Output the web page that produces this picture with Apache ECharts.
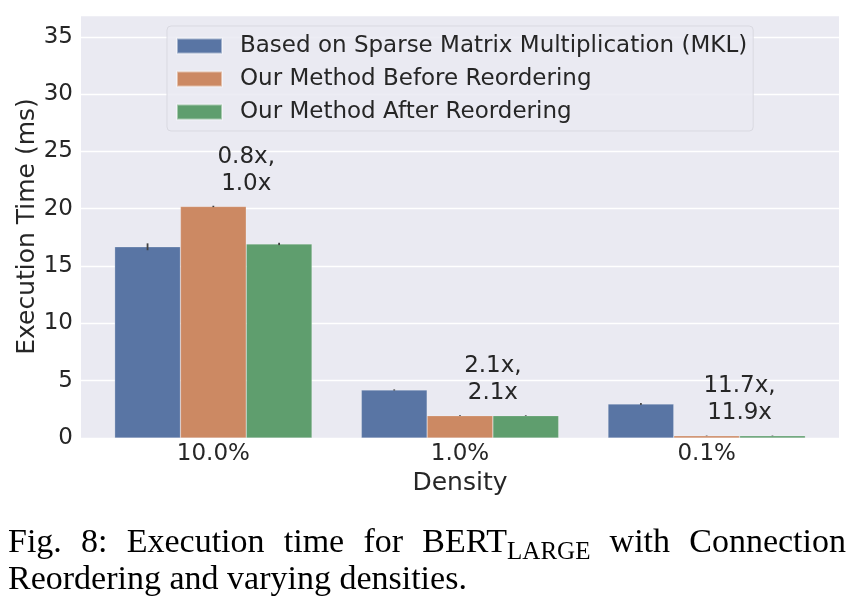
<!DOCTYPE html>
<html><head><meta charset="utf-8">
<script src="https://cdn.jsdelivr.net/npm/echarts@6/dist/echarts.min.js"></script>
<style>html,body{margin:0;padding:0;background:#fff}#c{width:858px;height:608px}</style>
</head><body><div id="c"></div>
<script>
const categories = ['10.0%', '1.0%', '0.1%'];
const seriesNames = ['Based on Sparse Matrix Multiplication (MKL)', 'Our Method Before Reordering', 'Our Method After Reordering'];
const mklTime = [16.68, 4.19, 2.97];
const beforeTime = [20.2, 1.95, 0.19];
const afterTime = [16.93, 1.95, 0.19];
const mklErr = [0.3, 0.05, 0.08];
const beforeErr = [0.06, 0.03, 0.02];
const afterErr = [0.1, 0.03, 0.02];
const speedupLabels = ['0.8x,\n1.0x', '2.1x,\n2.1x', '11.7x,\n11.9x'];
const yTickStep = 5;
const yMax = 36.9;

const colors = ['#5975A4', '#CC8963', '#5F9E6E'];
const txt = '#262626';
const font = 'DejaVu Sans';

const chart = echarts.init(document.getElementById('c'), null, {renderer: 'canvas'});

const values = [mklTime, beforeTime, afterTime];
const errs = [mklErr, beforeErr, afterErr];

const barSeries = values.map((v, i) => ({
  name: seriesNames[i], type: 'bar', xAxisIndex: 1, yAxisIndex: 1,
  data: v, barGap: '0%', barCategoryGap: '20%',
  itemStyle: {color: colors[i], borderColor: 'rgba(255,255,255,0.45)', borderWidth: 0.5},
  emphasis: {disabled: true}, z: 2
}));

const errSeries = values.map((v, i) => ({
  type: 'custom', xAxisIndex: 1, yAxisIndex: 1, z: 3, silent: true,
  data: v.map((val, k) => [k, val - errs[i][k], val + errs[i][k]]),
  encode: {x: 0, y: [1, 2]},
  renderItem: function (params, api) {
    const bw = api.size([1, 0])[0] * 0.8 / 3;
    const lo = api.coord([api.value(0), api.value(1)]);
    const hi = api.coord([api.value(0), api.value(2)]);
    const x = lo[0] + (i - 1) * bw;
    return {type: 'line', shape: {x1: x, y1: lo[1], x2: x, y2: hi[1]},
      style: {stroke: '#424242', lineWidth: 1.8}};
  }
}));

const annSeries = {
  type: 'custom', xAxisIndex: 1, yAxisIndex: 1, z: 4, silent: true,
  data: categories.map((c, k) => [k, Math.max(beforeTime[k], afterTime[k])]),
  encode: {x: 0, y: 1},
  renderItem: function (params, api) {
    const bw = api.size([1, 0])[0] * 0.8 / 3;
    const p = api.coord([api.value(0), api.value(1)]);
    return {type: 'text', x: p[0] + bw / 2, y: p[1] - 9,
      style: {text: speedupLabels[params.dataIndex], fill: txt, font: '23px "DejaVu Sans"',
        lineHeight: 27, align: 'center', verticalAlign: 'bottom'}};
  }
};

// caption (justified first line)
const cv = document.createElement('canvas').getContext('2d');
const capSize = 34, subSize = 25;
const capFont = capSize + 'px "Liberation Serif"';
const subFont = subSize + 'px "Liberation Serif"';
function w(t, f) { cv.font = f; return cv.measureText(t).width; }
const line1 = ['Fig.', '8:', 'Execution', 'time', 'for', 'BERT', 'with', 'Connection'];
const subText = 'LARGE';
const line2 = 'Reordering and varying densities.';
const capLeft = 8, capRight = 846, capY1 = 543, capY2 = 580;
const widths = line1.map(t => w(t, capFont) + (t === 'BERT' ? w(subText, subFont) : 0));
const gap = (capRight - capLeft - widths.reduce((a, b) => a + b, 0)) / (line1.length - 1);
const graphics = [];
let cx = capLeft;
line1.forEach((t, k) => {
  graphics.push({type: 'text', x: cx, y: capY1, style: {text: t, font: capFont, fill: '#000', verticalAlign: 'middle'}});
  if (t === 'BERT') {
    graphics.push({type: 'text', x: cx + w(t, capFont), y: capY1 + 9, style: {text: subText, font: subFont, fill: '#000', verticalAlign: 'middle'}});
  }
  cx += widths[k] + gap;
});
graphics.push({type: 'text', x: capLeft, y: capY2, style: {text: line2, font: capFont, fill: '#000', verticalAlign: 'middle'}});

const option = {
  animation: false,
  textStyle: {fontFamily: font},
  grid: [
    {left: 81, right: 19, top: 15, bottom: 170, show: true, backgroundColor: '#EAEAF2', borderWidth: 0, containLabel: false},
    {left: 90, right: 28, top: 15, bottom: 170, containLabel: false}
  ],
  xAxis: [
    {gridIndex: 0, type: 'value', min: 0, max: 1, show: false},
    {gridIndex: 1, type: 'category', data: categories,
      axisLine: {show: false}, axisTick: {show: false}, splitLine: {show: false},
      axisLabel: {fontSize: 23, color: txt, margin: 5, fontFamily: font},
      name: 'Density', nameLocation: 'middle', nameGap: 33, nameMoveOverlap: false,
      nameTextStyle: {fontSize: 25, color: txt, fontFamily: font}}
  ],
  yAxis: [
    {gridIndex: 0, type: 'value', min: 0, max: yMax, interval: yTickStep,
      axisLine: {show: false}, axisTick: {show: false},
      splitLine: {show: true, lineStyle: {color: '#FFFFFF', width: 1.3}},
      axisLabel: {fontSize: 23, color: txt, margin: 8, fontFamily: font, showMaxLabel: false,
        formatter: v => (Math.abs(v / yTickStep - Math.round(v / yTickStep)) < 1e-6 ? String(v) : '')},
      name: 'Execution Time (ms)', nameLocation: 'middle', nameGap: 41, nameMoveOverlap: false,
      nameTextStyle: {fontSize: 25, color: txt, fontFamily: font}},
    {gridIndex: 1, type: 'value', min: 0, max: yMax, show: false, splitLine: {show: false}}
  ],
  legend: {
    orient: 'vertical', left: 167, top: 26, itemWidth: 45, itemHeight: 15, itemGap: 7,
    padding: [7, 6, 6, 9], backgroundColor: 'rgba(234,234,242,0.85)', borderColor: '#D9D9E1',
    borderWidth: 1, borderRadius: 4, icon: 'rect', selectedMode: false,
    textStyle: {fontSize: 23, lineHeight: 26, color: txt, fontFamily: font, padding: [0, 0, 0, 13]},
    data: seriesNames
  },
  series: [...barSeries, ...errSeries, annSeries],
  graphic: graphics
};
chart.setOption(option);
</script></body></html>
